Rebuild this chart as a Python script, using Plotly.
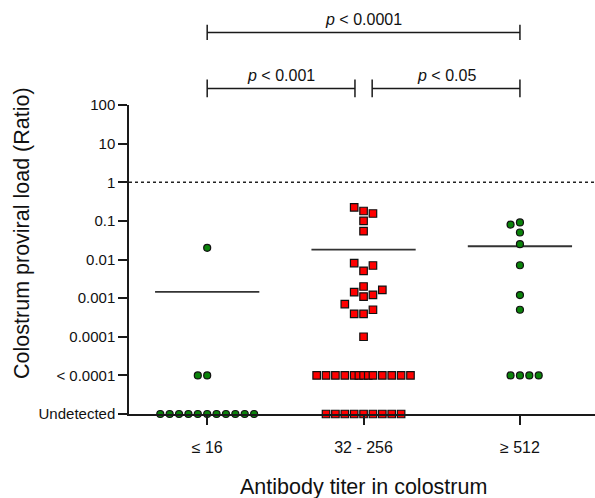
import math
import plotly.graph_objects as go

# ---------------- data ----------------
CATEGORIES = ["≤ 16", "32 - 256", "≥ 512"]
Y_TICK_EXP = [-6, -5, -4, -3, -2, -1, 0, 1, 2]
Y_TICK_TEXT = ["Undetected", "< 0.0001", "0.0001", "0.001", "0.01", "0.1", "1", "10", "100"]

# group 1: ≤ 16
G1_VALUES = [0.02]
G1_SLOTS = [0]
G1_BELOW_SLOTS = [-1, 0]
G1_UNDETECTED_SLOTS = [-5, -4, -3, -2, -1, 0, 1, 2, 3, 4, 5]

# group 2: 32 - 256
G2_VALUES = [0.224, 0.18, 0.155, 0.1, 0.054, 0.0081, 0.0051, 0.0070, 0.0020,
             0.00143, 0.0011, 0.00122, 0.00164, 0.0007, 0.00039, 0.00039, 0.0005, 0.0001]
G2_SLOTS = [-1, 0, 1, 0, 0, -1, 0, 1, 0, -1, 0, 1, 2, -2, -1, 0, 1, 0]
G2_BELOW_SLOTS = [-5, -4, -3, -2, -1, -0.5, 0, 0.5, 1, 2, 3, 4, 5]
G2_UNDETECTED_SLOTS = [-4, -3, -2, -1, 0, 1, 2, 3, 4]

# group 3: ≥ 512
G3_VALUES = [0.080, 0.091, 0.05, 0.025, 0.0071, 0.0012, 0.0005]
G3_SLOTS = [-1, 0, 0, 0, 0, 0, 0]
G3_BELOW_SLOTS = [-1, 0, 1, 2]
G3_UNDETECTED_SLOTS = []

GROUP_MEANS = [0.00145, 0.018, 0.022]

COMPARISONS = [  # (from group, to group, label, level in log10 units)
    (1, 3, "p < 0.0001", 3.88),
    (1, 2, "p < 0.001", 2.43),
    (2, 3, "p < 0.05", 2.43),
]
REFERENCE_LEVEL = 1.0

# ---------------- styling ----------------
FONT = "Arial, 'Liberation Sans', sans-serif"
SLOT_W = 0.06
X_RANGE = [0.5, 3.48]
Y_RANGE = [-6, 2]
BELOW_Y = -5
UNDET_Y = -6
AXIS_COLOR = "#1a1a1a"

groups = [
    (G1_VALUES, G1_SLOTS, G1_BELOW_SLOTS, G1_UNDETECTED_SLOTS, "circle", "#0a830a"),
    (G2_VALUES, G2_SLOTS, G2_BELOW_SLOTS, G2_UNDETECTED_SLOTS, "square", "#ff0000"),
    (G3_VALUES, G3_SLOTS, G3_BELOW_SLOTS, G3_UNDETECTED_SLOTS, "circle", "#0a830a"),
]

fig = go.Figure()
for gi, (vals, slots, below, undet, sym, col) in enumerate(groups):
    g = gi + 1
    xs = [g + s * SLOT_W for s in slots] + [g + s * SLOT_W for s in below] + [g + s * SLOT_W for s in undet]
    ys = [math.log10(v) for v in vals] + [BELOW_Y] * len(below) + [UNDET_Y] * len(undet)
    fig.add_trace(go.Scatter(
        x=xs, y=ys, mode="markers", cliponaxis=False, showlegend=False,
        marker=dict(symbol=sym, size=7.5 if sym == "square" else 7, color=col,
                    line=dict(color="#111111", width=1.2)),
    ))

shapes = []
for gi, m in enumerate(GROUP_MEANS):
    g = gi + 1
    shapes.append(dict(type="line", xref="x", yref="y", x0=g - 1 / 3, x1=g + 1 / 3,
                       y0=math.log10(m), y1=math.log10(m), layer="below",
                       line=dict(color="#333333", width=1.8)))

# dotted reference line at ratio = 1
shapes.append(dict(type="line", xref="paper", yref="y", x0=0, x1=1,
                   y0=math.log10(REFERENCE_LEVEL), y1=math.log10(REFERENCE_LEVEL),
                   line=dict(color="#222222", width=1.5, dash="dot")))


def xp(x):
    return (x - X_RANGE[0]) / (X_RANGE[1] - X_RANGE[0])


def yp(y):
    return (y - Y_RANGE[0]) / (Y_RANGE[1] - Y_RANGE[0])


annotations = []
for (a, b, label, lvl) in COMPARISONS:
    x0, x1 = a, b
    if b - a == 1:
        if a == 1:
            x1 = b - 0.055
        else:
            x0 = a + 0.055
    tick = 0.2 if lvl > 3 else 0.23
    shapes.append(dict(type="line", xref="paper", yref="paper", x0=xp(x0), x1=xp(x1),
                       y0=yp(lvl), y1=yp(lvl), line=dict(color="#1a1a1a", width=1.5)))
    for xe in (x0, x1):
        shapes.append(dict(type="line", xref="paper", yref="paper", x0=xp(xe), x1=xp(xe),
                           y0=yp(lvl - tick), y1=yp(lvl + tick), line=dict(color="#1a1a1a", width=1.5)))
    txt = "<i>p</i>" + label[1:]
    annotations.append(dict(xref="paper", yref="paper", x=xp((x0 + x1) / 2), y=yp(lvl + 0.33),
                            text=txt, showarrow=False, xanchor="center", yanchor="middle",
                            font=dict(family=FONT, size=16, color="#111111")))

annotations.append(dict(xref="paper", yref="paper", x=0, xshift=-107, y=0.586,
                        text="Colostrum proviral load (Ratio)", textangle=-90, showarrow=False,
                        xanchor="center", yanchor="middle",
                        font=dict(family=FONT, size=21.5, color="#111111")))
annotations.append(dict(xref="paper", yref="paper", x=0.504, y=-0.236,
                        text="Antibody titer in colostrum", showarrow=False,
                        xanchor="center", yanchor="middle",
                        font=dict(family=FONT, size=21.5, color="#111111")))

fig.update_layout(
    width=595, height=498,
    margin=dict(l=129, r=0, t=105, b=84),
    paper_bgcolor="white", plot_bgcolor="white",
    font=dict(family=FONT, color="#111111"),
    shapes=shapes, annotations=annotations,
    xaxis=dict(range=X_RANGE, tickmode="array", tickvals=[1, 2, 3], ticktext=CATEGORIES,
               showline=True, linecolor=AXIS_COLOR, linewidth=1.5, ticks="outside",
               ticklen=9, tickwidth=1.5, tickcolor=AXIS_COLOR, showgrid=False, zeroline=False,
               ticklabelstandoff=9,
               tickfont=dict(family=FONT, size=16, color="#111111")),
    yaxis=dict(range=Y_RANGE, tickmode="array", tickvals=Y_TICK_EXP, ticktext=Y_TICK_TEXT,
               showline=True, linecolor=AXIS_COLOR, linewidth=1.5, ticks="outside",
               ticklen=9, tickwidth=1.5, tickcolor=AXIS_COLOR, showgrid=False, zeroline=False,
               tickfont=dict(family=FONT, size=15, color="#111111")),
)

fig.write_html("out.html", config={"displayModeBar": False},
               post_script="document.body.style.margin='0';document.body.style.padding='0';"
                           "document.body.style.overflow='hidden';")
